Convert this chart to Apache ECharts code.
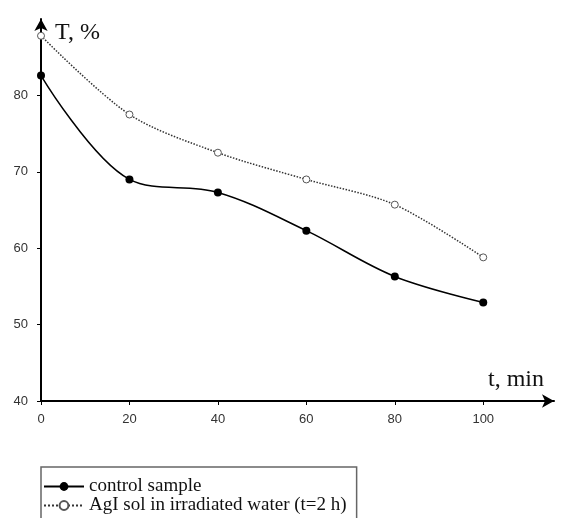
<!DOCTYPE html>
<html>
<head>
<meta charset="utf-8">
<script src="https://cdn.jsdelivr.net/npm/echarts@6/dist/echarts.min.js"></script>
<style>
  html, body { margin: 0; padding: 0; background: #fff; }
  #chart { width: 563px; height: 518px; }
</style>
</head>
<body>
<div id="chart"></div>
<script>
// time, min
var times = [0, 20, 40, 60, 80, 100]
// transmittance T, %
var controlT = [82.6, 69.0, 67.3, 62.3, 56.3, 52.9]
var aglT = [87.8, 77.5, 72.5, 69.0, 65.7, 58.8]
var xTicks = [0, 20, 40, 60, 80, 100]
var yTicks = [40, 50, 60, 70, 80]
var names = ['control sample', 'AgI sol in irradiated water (t=2 h)']

function pairs (xs, ys) {
    return xs.map(function (x, i) { return [x, ys[i]] })
}

var chart = echarts.init(document.getElementById('chart'))

var option = {
    animation: false,
    grid: { left: 41, right: 9, top: 19, bottom: 117 },
    legend: {
        orient: 'vertical',
        left: 41,
        top: 467,
        height: 80,
        padding: [10, 10, 8, 2],
        itemGap: 0,
        itemWidth: 40,
        itemHeight: 11,
        borderColor: '#666',
        borderWidth: 1.5,
        textStyle: { fontFamily: 'Liberation Serif', fontSize: 19, color: '#111', lineHeight: 19 },
        data: names
    },
    xAxis: {
        type: 'value',
        min: 0,
        max: 116,
        interval: 20,
        name: 't, min',
        nameLocation: 'end',
        nameGap: -10,
        nameTextStyle: { fontFamily: 'Liberation Serif', fontSize: 24, color: '#111', align: 'right', verticalAlign: 'bottom', padding: [0, 0, 9, 0] },
        axisLine: { lineStyle: { color: '#000', width: 2 }, symbol: ['none', 'arrow'], symbolSize: [10, 12] },
        axisTick: { show: true, length: 4, lineStyle: { color: '#000' }, customValues: xTicks },
        axisLabel: { fontFamily: 'Liberation Sans', fontSize: 13, color: '#333', margin: 12, customValues: xTicks },
        splitLine: { show: false }
    },
    yAxis: {
        type: 'value',
        min: 40,
        max: 90,
        interval: 10,
        name: 'T, %',
        nameLocation: 'end',
        nameGap: -14,
        nameTextStyle: { fontFamily: 'Liberation Serif', fontSize: 24, color: '#111', align: 'left', verticalAlign: 'middle', padding: [0, 0, 0, 14] },
        axisLine: { lineStyle: { color: '#000', width: 2 }, symbol: ['none', 'arrow'], symbolSize: [10, 12] },
        axisTick: { show: true, length: 4, lineStyle: { color: '#000' }, customValues: yTicks },
        axisLabel: { fontFamily: 'Liberation Sans', fontSize: 13, color: '#333', margin: 13, customValues: yTicks },
        splitLine: { show: false }
    },
    series: [
        {
            name: names[0],
            type: 'line',
            smooth: 0.35,
            symbol: 'circle',
            symbolSize: 8,
            itemStyle: { color: '#000' },
            lineStyle: { color: '#000', width: 1.5 },
            data: pairs(times, controlT)
        },
        {
            name: names[1],
            type: 'line',
            smooth: 0.3,
            symbol: 'circle',
            symbolSize: 7,
            itemStyle: { color: '#fff', borderColor: '#555', borderWidth: 1 },
            lineStyle: { color: '#333', width: 1.5, type: 'dotted' },
            data: pairs(times, aglT)
        }
    ]
}

chart.setOption(option)
</script>
</body>
</html>
